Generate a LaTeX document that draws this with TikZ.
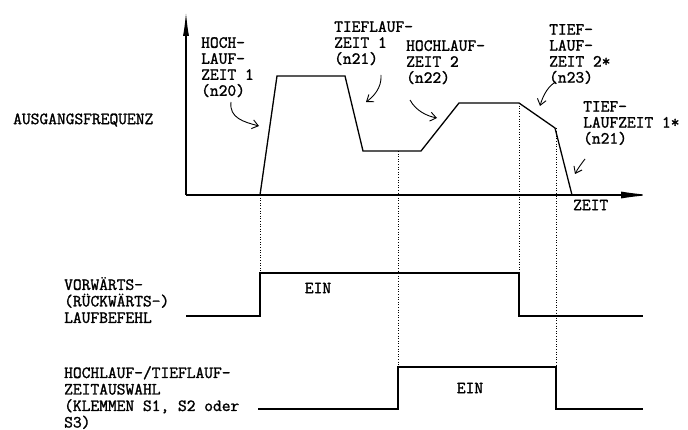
\documentclass[tikz,border=0pt]{standalone}
\usepackage{fontspec}
\newfontfamily\mono{Latin Modern Mono}[FakeBold=1.5]
\usetikzlibrary{arrows.meta}
\tikzset{
  lbl/.style={inner sep=0pt, anchor=north west, align=left, font=\mono\fontsize{17}{16}\selectfont},
  lblL/.style={inner sep=0pt, anchor=north west, align=left, font=\mono\fontsize{17}{16.5}\selectfont},
  sig/.style={line width=1.3pt, line join=miter},
  axisV/.style={line width=1.3pt, -{Latex[length=24pt,width=6pt]}},
  axisH/.style={line width=1.3pt, -{Latex[length=30pt,width=7pt]}},
  guide/.style={line width=0.6pt, dotted},
  pointer/.style={line width=0.9pt, -{Straight Barb[length=6pt,width=9pt]}}
}
\begin{document}
\begin{tikzpicture}[x=1pt,y=-1pt]
\useasboundingbox (0,0) rectangle (688,430);
% waveform corners
\coordinate (o) at (186,195);
\coordinate (w0) at (260,195);
\coordinate (w1) at (277,76);
\coordinate (w2) at (345,76);
\coordinate (w3) at (363,151);
\coordinate (w4) at (421,151);
\coordinate (w5) at (459,103);
\coordinate (w6) at (519,103);
\coordinate (w7) at (555,128);
\coordinate (w8) at (572,195);
\coordinate (ytop) at (186,12);
\coordinate (xend) at (651,195);
% axes
\draw[axisV] (o) -- (ytop);
\draw[axisH] (o) -- (xend);
% waveform
\draw[sig] (w0) -- (w1) -- (w2) -- (w3) -- (w4) -- (w5) -- (w6) -- (w7) -- (w8);
% signal lines
\coordinate (a0) at (186,316);
\coordinate (a1) at (260,316);
\coordinate (a2) at (260,273);
\coordinate (a3) at (519,273);
\coordinate (a4) at (519,316);
\coordinate (a5) at (643,316);
\draw[sig] (a0) -- (a1) -- (a2) -- (a3) -- (a4) -- (a5);
\coordinate (b0) at (258,409);
\coordinate (b1) at (398,409);
\coordinate (b2) at (398,367);
\coordinate (b3) at (556,367);
\coordinate (b4) at (556,409);
\coordinate (b5) at (643,409);
\draw[sig] (b0) -- (b1) -- (b2) -- (b3) -- (b4) -- (b5);
% dotted guides
\coordinate (g2) at (398,151);
\coordinate (g4) at (556,128);
\draw[guide] (w0) -- (a2);
\draw[guide] (g2) -- (b2);
\draw[guide] (w6) -- (a3);
\draw[guide] (g4) -- (b3);
% labels
\node[lbl,anchor=west] (ausg) at (13,120) {AUSGANGSFREQUENZ};
\node[lbl] (hz1) at (201,37) {HOCH-\\LAUF-\\ZEIT 1\\(n20)};
\node[lbl] (tz1) at (334,21) {TIEFLAUF-\\ZEIT 1\\(n21)};
\node[lbl] (hz2) at (406,40) {HOCHLAUF-\\ZEIT 2\\(n22)};
\node[lbl] (tz2) at (549,24) {TIEF-\\LAUF-\\ZEIT 2*\\(n23)};
\node[lbl] (tz1b) at (583,101) {TIEF-\\LAUFZEIT 1*\\(n21)};
\node[lbl,anchor=west] (zeit) at (573,205) {ZEIT};
\node[lbl,anchor=center] (ein1) at (318,288) {EIN};
\node[lbl,anchor=center] (ein2) at (470,388) {EIN};
\node[lblL] (vor) at (64,277) {VORWÄRTS-\\(RÜCKWÄRTS-)\\LAUFBEFEHL};
\node[lblL] (hoch) at (64,366) {HOCHLAUF-/TIEFLAUF-\\ZEITAUSWAHL\\(KLEMMEN S1, S2 oder\\S3)};
% pointer arrows
\coordinate (p1s) at (231,102); \coordinate (p1e) at (259,126);
\coordinate (p2s) at (381,75);  \coordinate (p2e) at (366,102);
\coordinate (p3s) at (410,100); \coordinate (p3e) at (437,118);
\coordinate (p4s) at (556,82);  \coordinate (p4e) at (540,106);
\coordinate (p5s) at (585,159); \coordinate (p5e) at (575,174);
\draw[pointer] (p1s) .. controls (229,118) and (244,122) .. (p1e);
\draw[pointer] (p2s) .. controls (382,88) and (373,97) .. (p2e);
\draw[pointer] (p3s) .. controls (416,111) and (427,116) .. (p3e);
\draw[pointer] (p4s) .. controls (549,85) and (543,95) .. (p4e);
\draw[pointer] (p5s) .. controls (582,163) and (578,168) .. (p5e);
\end{tikzpicture}
\end{document}
